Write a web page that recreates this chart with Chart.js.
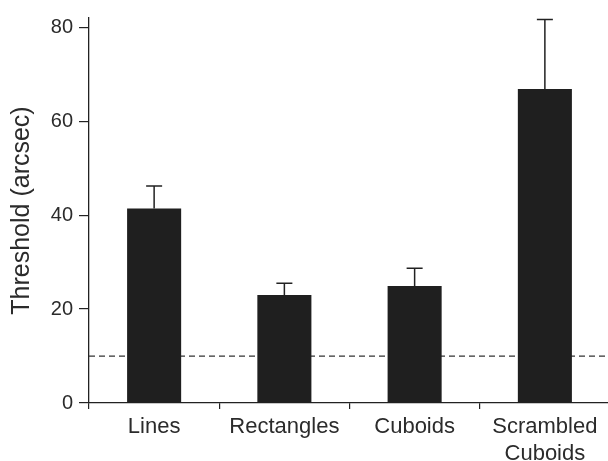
<!DOCTYPE html>
<html>
<head>
<meta charset="utf-8">
<script src="https://cdn.jsdelivr.net/npm/chart.js@4"></script>
<style>
  html, body { margin: 0; padding: 0; background: #fff; overflow: hidden; width: 608px; height: 461px; }
  canvas { display: block; }
</style>
</head>
<body>
<canvas id="c" width="610" height="461"></canvas>
<script>
const categories = ['Lines', 'Rectangles', 'Cuboids', ['Scrambled', 'Cuboids']];
const thresholds = [41.4, 23.0, 24.9, 66.9];
const errorTops = [46.2, 25.5, 28.7, 81.7];
const yTicks = [0, 20, 40, 60, 80];
const referenceLevel = 10;
const yTitle = 'Threshold (arcsec)';

const FONT = '"Liberation Sans", Arial, Helvetica, sans-serif';
const INK = '#2b2b2b';

const refLinePlugin = {
  id: 'refLine',
  beforeDatasetsDraw(chart) {
    const { ctx, chartArea, scales } = chart;
    const y = scales.y.getPixelForValue(referenceLevel);
    ctx.save();
    ctx.strokeStyle = '#333';
    ctx.lineWidth = 1.3;
    ctx.setLineDash([6, 4]);
    ctx.beginPath();
    ctx.moveTo(chartArea.left, y);
    ctx.lineTo(chartArea.right, y);
    ctx.stroke();
    ctx.restore();
  }
};

const errorBarPlugin = {
  id: 'errorBars',
  afterDatasetsDraw(chart) {
    const { ctx, scales } = chart;
    const meta = chart.getDatasetMeta(0);
    ctx.save();
    ctx.strokeStyle = '#222';
    ctx.lineWidth = 1.5;
    meta.data.forEach((bar, i) => {
      const x = bar.x;
      const yBase = scales.y.getPixelForValue(thresholds[i]);
      const yTop = scales.y.getPixelForValue(errorTops[i]);
      ctx.beginPath();
      ctx.moveTo(x, yBase);
      ctx.lineTo(x, yTop);
      ctx.moveTo(x - 8, yTop);
      ctx.lineTo(x + 8, yTop);
      ctx.stroke();
    });
    ctx.restore();
  }
};

new Chart(document.getElementById('c'), {
  type: 'bar',
  data: {
    labels: categories,
    datasets: [{
      data: thresholds,
      backgroundColor: '#1f1f1f',
      borderWidth: 0,
      barPercentage: 0.415,
      categoryPercentage: 1.0
    }]
  },
  options: {
    responsive: false,
    animation: false,
    devicePixelRatio: 1,
    layout: { padding: { top: 18, right: 0, bottom: 0, left: 0 } },
    plugins: { legend: { display: false }, tooltip: { enabled: false } },
    scales: {
      x: {
        offset: true,
        grid: { display: true, drawOnChartArea: false, drawTicks: true, tickLength: 6, color: '#222', lineWidth: 1.2, offset: true },
        border: { display: true, color: '#222', width: 1.3 },
        ticks: { color: INK, font: { family: FONT, size: 22, lineHeight: 1.2 }, padding: 5, maxRotation: 0, autoSkip: false },
        afterFit(scale) { scale.height = 58; }
      },
      y: {
        min: 0,
        max: 82,
        afterBuildTicks(scale) { scale.ticks = yTicks.map(v => ({ value: v })); },
        grid: { display: true, drawOnChartArea: false, drawTicks: true, tickLength: 10, color: '#222', lineWidth: 1.2 },
        border: { display: true, color: '#222', width: 1.3 },
        ticks: { color: INK, font: { family: FONT, size: 20 }, padding: 6 },
        title: { display: true, text: yTitle, color: INK, font: { family: FONT, size: 25, lineHeight: 1.2 }, padding: { top: 7, bottom: 0 } },
        afterFit(scale) { scale.width = 89; }
      }
    }
  },
  plugins: [refLinePlugin, errorBarPlugin]
});
</script>
</body>
</html>
